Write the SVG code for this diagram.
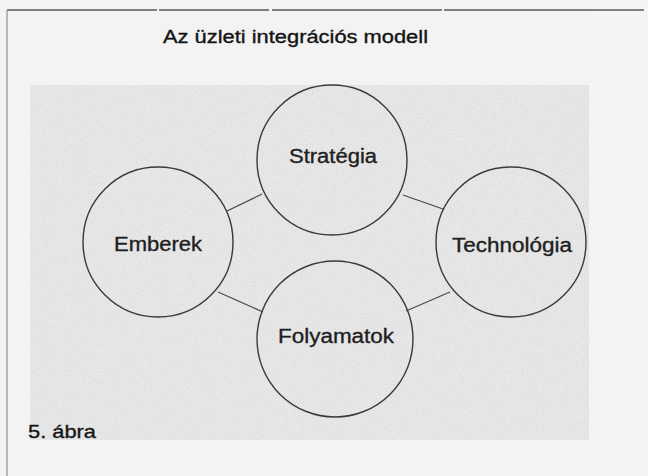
<svg xmlns="http://www.w3.org/2000/svg" width="648" height="476" viewBox="0 0 648 476">
  <defs>
    <!-- fine paper grain for the printed panel -->
    <filter id="grain" x="0" y="0" width="100%" height="100%">
      <feTurbulence type="fractalNoise" baseFrequency="0.9" numOctaves="2" seed="3" result="n"/>
      <feColorMatrix in="n" type="matrix" values="0 0 0 0 0.6  0 0 0 0 0.6  0 0 0 0 0.6  0 0 0 -2.2 1.25"/>
      <feComposite in2="SourceGraphic" operator="in"/>
    </filter>
  </defs>
  <style>
    .node circle { fill: none; stroke: #3a3a3a; stroke-width: 1.4; }
    .label { font-family: "Liberation Sans", Arial, sans-serif; font-size: 20px; fill: #1e1e1e; stroke: #1e1e1e; stroke-width: 0.35; text-anchor: middle; }
    .caption { font-family: "Liberation Sans", Arial, sans-serif; fill: #151515; stroke: #151515; stroke-width: 0.35; }
    #connectors line { stroke: #4a4a4a; stroke-width: 1.3; }
  </style>

  <!-- page and panel -->
  <rect x="0" y="0" width="648" height="476" fill="#f3f3f3"/>
  <rect x="30" y="85" width="559" height="355" fill="#e8e8e8"/>
  <rect x="30" y="85" width="559" height="355" fill="#ffffff" filter="url(#grain)" opacity="0.5"/>
  <rect x="589" y="0" width="59" height="476" fill="#f4f4f4"/>
  <line x1="7" y1="10" x2="648" y2="10" stroke="#5a5a5a" stroke-width="1.5" stroke-dasharray="150 2 110 3 170 2 200"/>
  <line x1="7" y1="10" x2="7" y2="476" stroke="#a0a0a0" stroke-width="1.4"/>

  <text class="caption" x="163" y="43" font-size="18" textLength="265" lengthAdjust="spacingAndGlyphs">Az üzleti integrációs modell</text>

  <g id="connectors">
    <line x1="227" y1="211" x2="262" y2="194"/>
    <line x1="403" y1="195" x2="443" y2="209"/>
    <line x1="218" y1="292" x2="263" y2="312"/>
    <line x1="406" y1="311" x2="450" y2="292"/>
  </g>

  <g id="strategia" class="node">
    <circle cx="332" cy="160" r="75"/>
    <text class="label" x="333" y="163" textLength="88" lengthAdjust="spacingAndGlyphs">Stratégia</text>
  </g>
  <g id="emberek" class="node">
    <circle cx="158" cy="242" r="75"/>
    <text class="label" x="158" y="251" textLength="88" lengthAdjust="spacingAndGlyphs">Emberek</text>
  </g>
  <g id="technologia" class="node">
    <circle cx="511" cy="242" r="75"/>
    <text class="label" x="512" y="252" textLength="120" lengthAdjust="spacingAndGlyphs">Technológia</text>
  </g>
  <g id="folyamatok" class="node">
    <circle cx="335" cy="339" r="78"/>
    <text class="label" x="336" y="343" textLength="116" lengthAdjust="spacingAndGlyphs">Folyamatok</text>
  </g>

  <text class="caption" x="28" y="438" font-size="19" textLength="68" lengthAdjust="spacingAndGlyphs">5. ábra</text>
</svg>
